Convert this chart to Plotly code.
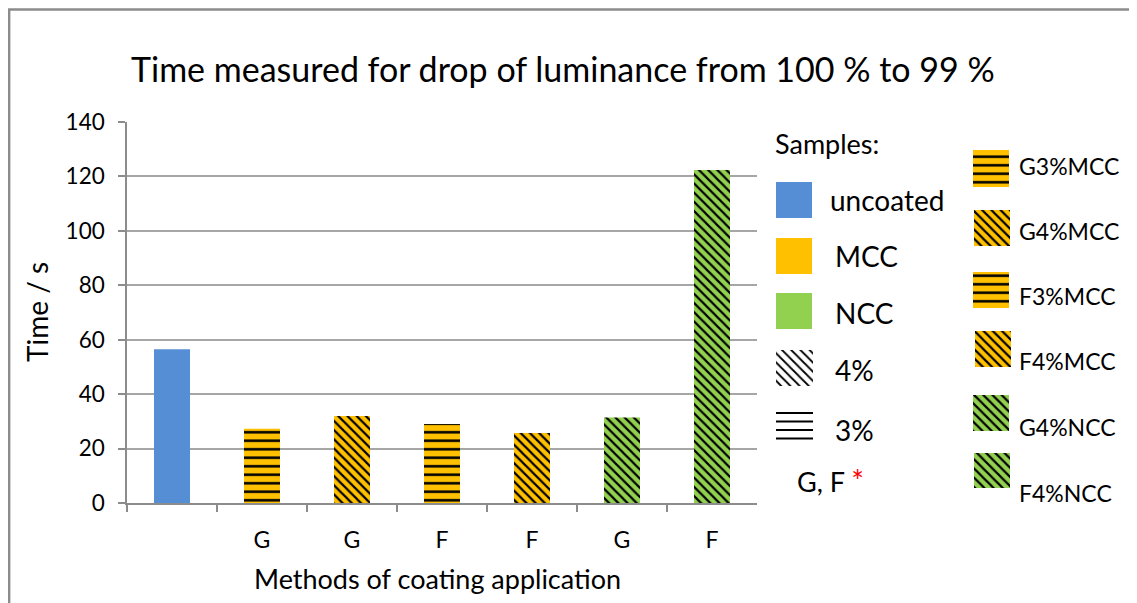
import plotly.graph_objects as go

# ---------------- data ----------------
samples = ["uncoated", "G3%MCC", "G4%MCC", "F3%MCC", "F4%MCC", "G4%NCC", "F4%NCC"]
methods = ["", "G", "G", "F", "F", "G", "F"]
times = [56.5, 27.3, 32.0, 29.0, 25.7, 31.4, 122.4]
materials = ["uncoated", "MCC", "MCC", "MCC", "MCC", "NCC", "NCC"]
concentrations = ["", "3%", "4%", "3%", "4%", "4%", "4%"]

y_ticks = [0, 20, 40, 60, 80, 100, 120, 140]

legend_left_labels = ["uncoated", "MCC", "NCC", "4%", "3%"]
legend_right_labels = ["G3%MCC", "G4%MCC", "F3%MCC", "F4%MCC", "G4%NCC", "F4%NCC"]

# ---------------- styles ----------------
W, H = 1137, 603
OFF = 8  # page offset of the figure (body margin)
FONT = "Lato"
colors = {"uncoated": "#558ED5", "MCC": "#FFC000", "NCC": "#92D050"}
shapes_pat = {"": "", "3%": "-", "4%": "\\"}
pat_size = {"": 8, "3%": 8.5, "4%": 6.5}
pat_solid = {"": 0.3, "3%": 0.3, "4%": 0.33}


def px(x):
    return (x - OFF) / W


def py(y):
    return 1 - (y - OFF) / H


fig = go.Figure()

for s, t, m, c in zip(samples, times, materials, concentrations):
    pattern = dict(shape=shapes_pat[c], size=pat_size[c], solidity=pat_solid[c],
                   fgcolor="#000000", fgopacity=1, bgcolor=colors[m], fillmode="replace") if c else dict(shape="")
    fig.add_trace(go.Bar(
        x=[s], y=[t], width=0.4, name=s,
        marker=dict(color=colors[m], line=dict(width=0), pattern=pattern),
        showlegend=False, hoverinfo="x+y",
    ))


def swatch(x0, y0, x1, y1, bg, shape="", size=8, solidity=0.3):
    fig.add_trace(go.Scatter(
        x=[x0, x1, x1, x0, x0], y=[y0, y0, y1, y1, y0],
        xaxis="x2", yaxis="y2", mode="lines", line=dict(width=0),
        fill="toself", fillcolor=bg,
        fillpattern=dict(shape=shape, size=size, solidity=solidity,
                         fgcolor="black", bgcolor=bg, fillmode="replace") if shape else None,
        showlegend=False, hoverinfo="skip",
    ))


# left column swatches (screen pixel coordinates)
left_swatches = [
    (776, 182, 812, 218, colors["uncoated"], "", 8, 0.3),
    (776, 238, 812, 274, colors["MCC"], "", 8, 0.3),
    (776, 293, 812, 329, colors["NCC"], "", 8, 0.3),
    (776, 350, 813, 386, "#FFFFFF", "\\", 6.5, 0.28),
]
for s in left_swatches:
    swatch(*s)
for yy in [413, 421.5, 430, 438.5]:
    fig.add_trace(go.Scatter(x=[776, 813], y=[yy, yy], xaxis="x2", yaxis="y2", mode="lines",
                             line=dict(color="black", width=2.2), showlegend=False, hoverinfo="skip"))

left_text_pos = [(828, 200), (833, 256), (833, 313), (833, 370), (833, 430)]

right_sw_pos = [(973, 150, 1009, 187), (974, 210, 1010, 246), (973, 272, 1009, 308),
                (975, 331, 1011, 367), (973, 395, 1009, 431), (974, 453, 1010, 488)]
right_text_pos = [(1017, 166), (1017, 231), (1017, 296), (1017, 361), (1017, 427), (1017, 493)]
for (x0, y0, x1, y1), m, c in zip(right_sw_pos, materials[1:], concentrations[1:]):
    swatch(x0, y0, x1, y1, colors[m], shapes_pat[c], pat_size[c], pat_solid[c])


def ann(text, x, y, size, anchor="left", **kw):
    return dict(text=text, x=px(x), y=py(y), xref="paper", yref="paper", showarrow=False,
                font=dict(family=FONT, size=size, color="#000000"), xanchor=anchor, yanchor="middle", **kw)


annotations = [
    ann("Time measured for drop of luminance from 100 % to 99 %", 563, 69, 34, "center"),
    ann("Time / s", 37, 312, 28, "center", textangle=-90),
    ann("Methods of coating application", 437, 578, 27, "center"),
    ann("Samples:", 773, 144, 27),
    ann("G, F <span style='color:#FF0000;font-size:30px'>*</span>", 795, 480, 27),
]
for lab, (x, y) in zip(legend_left_labels, left_text_pos):
    annotations.append(ann(lab, x, y, 28))
for lab, (x, y) in zip(legend_right_labels, right_text_pos):
    annotations.append(ann(lab, x, y, 23))

shapes = [dict(type="rect", xref="paper", yref="paper", x0=0.001, x1=1.02, y0=-0.02, y1=0.9975,
               line=dict(color="#8C8C8C", width=2.5), fillcolor="rgba(0,0,0,0)", layer="below")]

fig.update_layout(
    width=W, height=H, margin=dict(l=0, r=0, t=0, b=0),
    paper_bgcolor="white", plot_bgcolor="rgba(0,0,0,0)",
    font=dict(family=FONT, color="#000000"), barmode="overlay",
    annotations=annotations, shapes=shapes,
    xaxis=dict(domain=[px(127), px(757)], type="category", categoryorder="array", categoryarray=samples,
               tickvals=samples, ticktext=methods, tickson="boundaries",
               ticks="outside", ticklen=7, tickcolor="#8C8C8C", tickwidth=1.5,
               showline=True, linecolor="#8C8C8C", linewidth=1.5, showgrid=False,
               tickfont=dict(family=FONT, size=23, color="#000000"), ticklabelstandoff=16,
               range=[-0.5, 6.5], fixedrange=True, automargin=False),
    yaxis=dict(domain=[py(503), py(122)], range=[0, 140], tickvals=y_ticks,
               ticks="outside", ticklen=7, tickcolor="#8C8C8C", tickwidth=1.5,
               showline=True, linecolor="#8C8C8C", linewidth=1.5,
               showgrid=True, gridcolor="#A6A6A6", gridwidth=1.5, zeroline=False,
               tickfont=dict(family=FONT, size=22.5, color="#000000"), ticklabelstandoff=9,
               fixedrange=True, automargin=False),
    xaxis2=dict(domain=[0, 1], range=[OFF, OFF + W], visible=False, fixedrange=True, anchor="y2",
                automargin=False),
    yaxis2=dict(domain=[0, 1], range=[OFF + H, OFF], visible=False, fixedrange=True, anchor="x2",
                automargin=False),
)

fig.write_html("out.html")
